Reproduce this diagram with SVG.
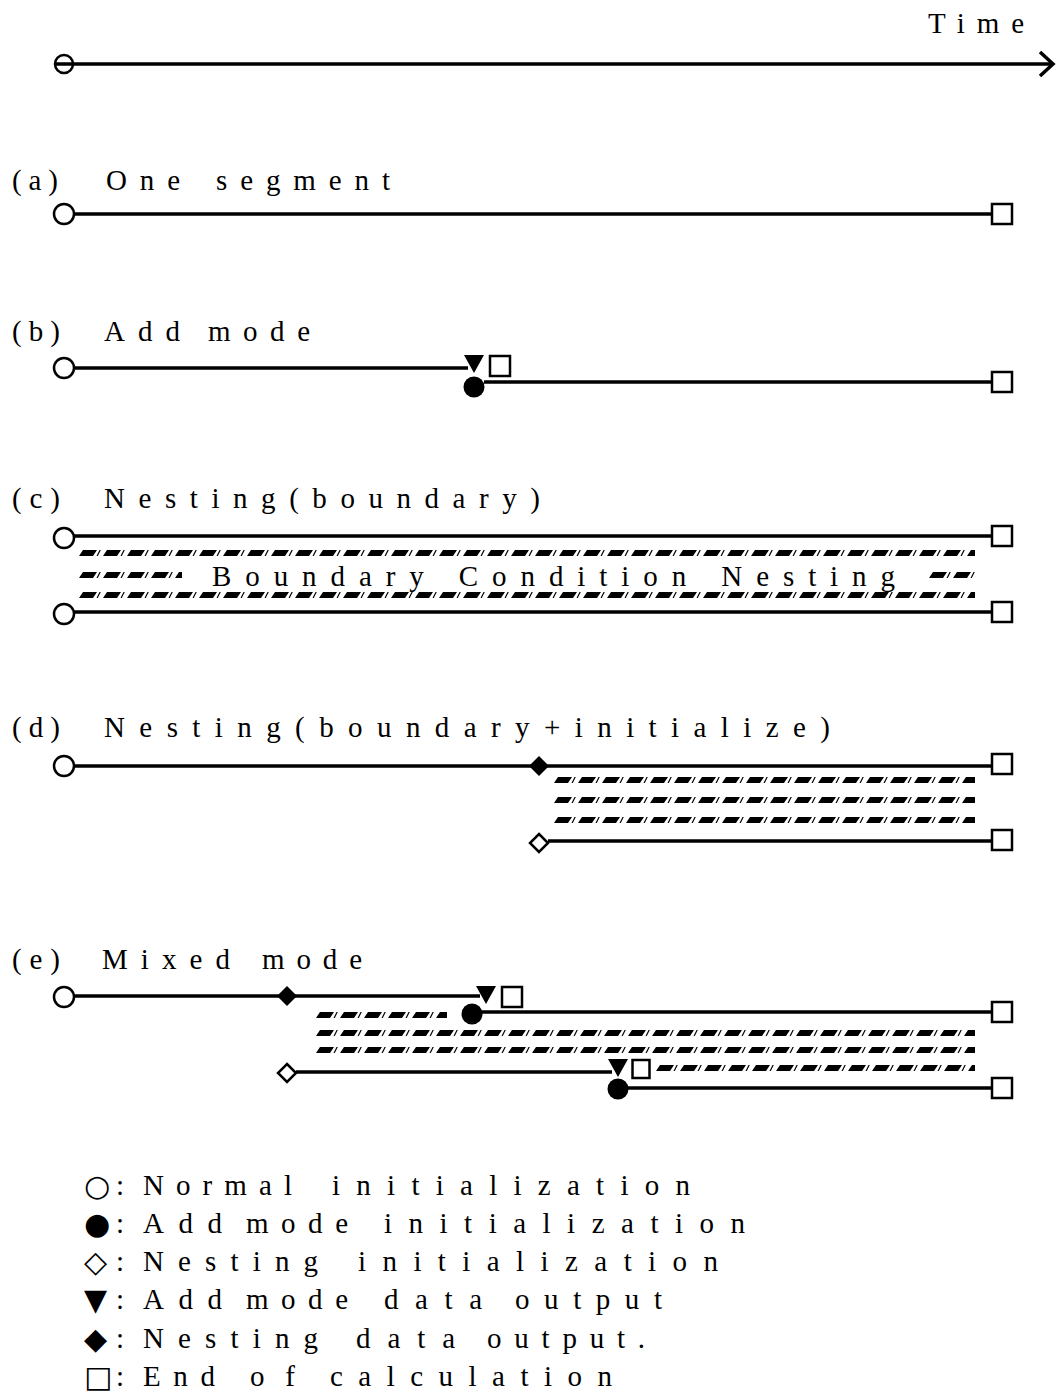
<svg xmlns="http://www.w3.org/2000/svg" width="1056" height="1394" viewBox="0 0 1056 1394">
<style>
.t{font-family:"Liberation Serif","DejaVu Serif",serif;font-size:29px;fill:#000}
.s{font-family:"DejaVu Sans",sans-serif;font-size:30px;fill:#000}
.ln{stroke:#000;stroke-width:3.5;fill:none}
</style>
<defs>
<g id="oc"><circle r="10" fill="#fff" stroke="#000" stroke-width="2.5"/></g>
<g id="fc"><circle r="10.5" fill="#000"/></g>
<g id="sq"><rect x="-10" y="-10" width="20" height="20" fill="#fff" stroke="#000" stroke-width="2.5"/></g>
<g id="sqs"><rect x="-8.5" y="-9" width="17" height="18" fill="#fff" stroke="#000" stroke-width="2.5"/></g>
<g id="fd"><polygon points="0,-10 10,0 0,10 -10,0" fill="#000"/></g>
<g id="od"><polygon points="0,-9 9,0 0,9 -9,0" fill="#fff" stroke="#000" stroke-width="2.5"/></g>
<g id="tri"><polygon points="-10,-9 10,-9 0,9" fill="#000"/></g>
<pattern id="hatch" x="0" y="0" width="24" height="6" patternUnits="userSpaceOnUse">
<polygon points="1,6 5,0 19,0 15,6" fill="#000"/>
<polygon points="18.5,6 21.5,0 22.8,0 19.8,6" fill="#000"/>
</pattern>
</defs>

<g id="connectors">
<line class="ln" x1="56" y1="64" x2="1051" y2="64" stroke-width="4"/>
<polyline points="1040,52 1053,64 1040,76" fill="none" stroke="#000" stroke-width="3.5"/>
<line class="ln" x1="74" y1="214" x2="992" y2="214"/>
<line class="ln" x1="74" y1="368" x2="468" y2="368"/>
<line class="ln" x1="484" y1="382" x2="992" y2="382"/>
<line class="ln" x1="74" y1="536" x2="992" y2="536"/>
<line class="ln" x1="74" y1="612" x2="992" y2="612"/>
<line class="ln" x1="74" y1="766" x2="992" y2="766"/>
<line class="ln" x1="548" y1="841" x2="992" y2="841"/>
<line class="ln" x1="74" y1="996" x2="480" y2="996"/>
<line class="ln" x1="482" y1="1012" x2="992" y2="1012"/>
<line class="ln" x1="296" y1="1072" x2="612" y2="1072"/>
<line class="ln" x1="628" y1="1088" x2="992" y2="1088"/>
</g>

<g id="hatching">
<rect transform="translate(78,550)" width="897" height="6" fill="url(#hatch)"/>
<rect transform="translate(78,572)" width="104" height="6" fill="url(#hatch)"/>
<rect transform="translate(928,572)" width="47" height="6" fill="url(#hatch)"/>
<rect transform="translate(78,592)" width="897" height="6" fill="url(#hatch)"/>
<rect transform="translate(553,777)" width="422" height="6" fill="url(#hatch)"/>
<rect transform="translate(553,797)" width="422" height="6" fill="url(#hatch)"/>
<rect transform="translate(553,817)" width="422" height="6" fill="url(#hatch)"/>
<rect transform="translate(315,1012)" width="132" height="6" fill="url(#hatch)"/>
<rect transform="translate(315,1030)" width="660" height="6" fill="url(#hatch)"/>
<rect transform="translate(315,1047)" width="660" height="6" fill="url(#hatch)"/>
<rect transform="translate(655,1065)" width="320" height="6" fill="url(#hatch)"/>
</g>

<g id="time-axis"><circle cx="64" cy="64" r="9" fill="none" stroke="#000" stroke-width="2.5"/></g>
<text class="t" x="928" y="33" textLength="96" lengthAdjust="spacing">Time</text>

<g id="a">
<text class="t" x="12" y="190" textLength="46" lengthAdjust="spacing">(a)</text>
<text class="t" x="106" y="190" textLength="74" lengthAdjust="spacing">One</text>
<text class="t" x="216" y="190" textLength="174" lengthAdjust="spacing">segment</text>
<use id="a-start" href="#oc" x="64" y="214"/>
<use id="a-end" href="#sq" x="1002" y="214"/>
</g>

<g id="b">
<text class="t" x="12" y="341" textLength="48" lengthAdjust="spacing">(b)</text>
<text class="t" x="104" y="341" textLength="76" lengthAdjust="spacing">Add</text>
<text class="t" x="208" y="341" textLength="102" lengthAdjust="spacing">mode</text>
<use id="b-start" href="#oc" x="64" y="368"/>
<use id="b-out" href="#tri" x="474" y="364"/>
<use id="b-end1" href="#sq" x="500" y="366"/>
<use id="b-add" href="#fc" x="474" y="387"/>
<use id="b-end2" href="#sq" x="1002" y="382"/>
</g>

<g id="c">
<text class="t" x="12" y="508" textLength="48" lengthAdjust="spacing">(c)</text>
<text class="t" x="104" y="508" textLength="436" lengthAdjust="spacing">Nesting(boundary)</text>
<use id="c-start1" href="#oc" x="64" y="538"/>
<use id="c-end1" href="#sq" x="1002" y="536"/>
<text class="t" x="212" y="586" textLength="683" lengthAdjust="spacing">Boundary Condition Nesting</text>
<use id="c-start2" href="#oc" x="64" y="614"/>
<use id="c-end2" href="#sq" x="1002" y="612"/>
</g>

<g id="d">
<text class="t" x="12" y="737" textLength="48" lengthAdjust="spacing">(d)</text>
<text class="t" x="104" y="737" textLength="726" lengthAdjust="spacing">Nesting(boundary+initialize)</text>
<use id="d-start" href="#oc" x="64" y="766"/>
<use id="d-nout" href="#fd" x="539" y="766"/>
<use id="d-end1" href="#sq" x="1002" y="764"/>
<use id="d-nest" href="#od" x="539" y="843"/>
<use id="d-end2" href="#sq" x="1002" y="840"/>
</g>

<g id="e">
<text class="t" x="12" y="969" textLength="48" lengthAdjust="spacing">(e)</text>
<text class="t" x="102" y="969" textLength="128" lengthAdjust="spacing">Mixed</text>
<text class="t" x="262" y="969" textLength="100" lengthAdjust="spacing">mode</text>
<use id="e-start" href="#oc" x="64" y="997"/>
<use id="e-nout" href="#fd" x="287" y="996"/>
<use id="e-out1" href="#tri" x="486" y="995"/>
<use id="e-end1" href="#sq" x="512" y="997"/>
<use id="e-add1" href="#fc" x="472" y="1014"/>
<use id="e-end2" href="#sq" x="1002" y="1012"/>
<use id="e-nest" href="#od" x="287" y="1073"/>
<use id="e-out2" href="#tri" x="618" y="1068"/>
<use id="e-end3" href="#sqs" x="641" y="1069"/>
<use id="e-add2" href="#fc" x="618" y="1089"/>
<use id="e-end4" href="#sq" x="1002" y="1088"/>
</g>

<g id="legend">
<text class="s" x="84" y="1196">○</text><text class="t" x="116" y="1195">:</text>
<text class="t" x="143" y="1195" textLength="149" lengthAdjust="spacing">Normal</text>
<text class="t" x="332" y="1195" textLength="358" lengthAdjust="spacing">initialization</text>

<text class="s" x="84" y="1234">●</text><text class="t" x="116" y="1233">:</text>
<text class="t" x="143" y="1233" textLength="79" lengthAdjust="spacing">Add</text>
<text class="t" x="246" y="1233" textLength="102" lengthAdjust="spacing">mode</text>
<text class="t" x="384" y="1233" textLength="361" lengthAdjust="spacing">initialization</text>

<text class="s" x="84" y="1272">◇</text><text class="t" x="116" y="1271">:</text>
<text class="t" x="143" y="1271" textLength="175" lengthAdjust="spacing">Nesting</text>
<text class="t" x="358" y="1271" textLength="360" lengthAdjust="spacing">initialization</text>

<text class="s" x="84" y="1310">▼</text><text class="t" x="116" y="1309">:</text>
<text class="t" x="143" y="1309" textLength="79" lengthAdjust="spacing">Add</text>
<text class="t" x="246" y="1309" textLength="102" lengthAdjust="spacing">mode</text>
<text class="t" x="384" y="1309" textLength="98" lengthAdjust="spacing">data</text>
<text class="t" x="515" y="1309" textLength="147" lengthAdjust="spacing">output</text>

<text class="s" x="84" y="1349">◆</text><text class="t" x="116" y="1348">:</text>
<text class="t" x="143" y="1348" textLength="175" lengthAdjust="spacing">Nesting</text>
<text class="t" x="356" y="1348" textLength="99" lengthAdjust="spacing">data</text>
<text class="t" x="487" y="1348" textLength="158" lengthAdjust="spacing">output.</text>

<text class="s" x="84" y="1387">□</text><text class="t" x="116" y="1386">:</text>
<text class="t" x="143" y="1386" textLength="72" lengthAdjust="spacing">End</text>
<text class="t" x="250" y="1386" textLength="45" lengthAdjust="spacing">of</text>
<text class="t" x="330" y="1386" textLength="282" lengthAdjust="spacing">calculation</text>
</g>
</svg>
